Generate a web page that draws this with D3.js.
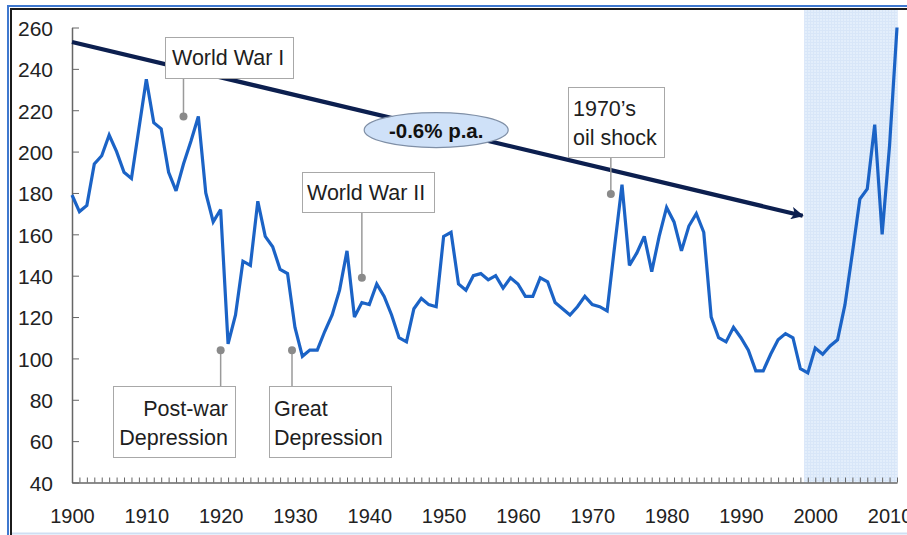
<!DOCTYPE html>
<html>
<head>
<meta charset="utf-8">
<script src="https://cdn.jsdelivr.net/npm/d3@7"></script>
<style>
  html, body { margin: 0; padding: 0; background: #fff; }
  svg { display: block; font-family: "Liberation Sans", Arial, sans-serif; }
</style>
</head>
<body>
<svg id="chart" width="907" height="535"></svg>
<script>
// ---------------- DATA ----------------
const years = d3.range(1900, 2012);
const values = [
  179, 171, 174, 194, 198, 208, 200, 190, 187, 211,   // 1900-1909
  235, 214, 211, 190, 181, 194, 205, 217, 180, 166,   // 1910-1919
  172, 107, 121, 147, 145, 176, 159, 154, 143, 141,   // 1920-1929
  115, 101, 104, 104, 113, 121, 133, 152, 120, 127,   // 1930-1939
  126, 136, 130, 121, 110, 108, 124, 129, 126, 125,   // 1940-1949
  159, 161, 136, 133, 140, 141, 138, 140, 134, 139,   // 1950-1959
  136, 130, 130, 139, 137, 127, 124, 121, 125, 130,   // 1960-1969
  126, 125, 123, 154, 184, 145, 151, 159, 142, 159,   // 1970-1979
  173, 166, 152, 164, 170, 161, 120, 110, 108, 115,   // 1980-1989
  110, 104, 94, 94, 102, 109, 112, 110, 95, 93,       // 1990-1999
  105, 102, 106, 109, 126, 151, 177, 182, 213, 160,   // 2000-2009
  203, 260                                            // 2010-2011
];
const yTicks = [40, 60, 80, 100, 120, 140, 160, 180, 200, 220, 240, 260];
const xTickLabels = [1900, 1910, 1920, 1930, 1940, 1950, 1960, 1970, 1980, 1990, 2000, 2010];
const trendYears = [1900, 1998.3];
const trendValues = [253, 169];
const trendLabel = "-0.6% p.a.";
const shadedYears = [1998.5, 2011.1];

const annoNames = ["World War I", "World War II", "1970\u2019s|oil shock", "Post-war|Depression", "Great|Depression"];
const annoYears = [1915, 1939, 1972.5, 1920, 1929.6];
const annoValues = [217, 139, 179.5, 104, 104];

// ---------------- LAYOUT ----------------
const W = 907, H = 535;
const x = d3.scaleLinear().domain([1900, 2011]).range([72, 897]);
const y = d3.scaleLinear().domain([40, 260]).range([482.5, 27.5]);

// annotation box layout (pixels)
const annoBoxes = [
  { x0: 165, y0: 37,  x1: 293, y1: 78,  anchor: "start", tx: 172, ty: 65,  conn: "down" },
  { x0: 302, y0: 172, x1: 434, y1: 212, anchor: "start", tx: 307, ty: 200, conn: "down" },
  { x0: 568, y0: 87,  x1: 664, y1: 157, anchor: "start", tx: 573, ty: 116, conn: "down" },
  { x0: 113, y0: 386, x1: 235, y1: 457, anchor: "end",   tx: 228, ty: 416, conn: "up" },
  { x0: 269, y0: 386, x1: 391, y1: 457, anchor: "start", tx: 274, ty: 416, conn: "up" }
];

const svg = d3.select("#chart");
svg.append("rect").attr("width", W).attr("height", H).attr("fill", "#fff");

// defs: grid pattern + arrow marker
const defs = svg.append("defs");
const pat = defs.append("pattern").attr("id", "grid").attr("width", 3).attr("height", 3)
  .attr("patternUnits", "userSpaceOnUse");
pat.append("rect").attr("width", 3).attr("height", 3).attr("fill", "#e3eefb");
pat.append("path").attr("d", "M0,0.5H3M0.5,0V3").attr("stroke", "#d8e6f8").attr("stroke-width", 1);

defs.append("marker").attr("id", "arrow")
  .attr("viewBox", "0 0 10 10").attr("refX", 9).attr("refY", 5)
  .attr("markerWidth", 3.6).attr("markerHeight", 3.0).attr("markerUnits", "strokeWidth")
  .attr("orient", "auto")
  .append("path").attr("d", "M0,0L10,5L0,10L2.5,5Z").attr("fill", "#0c1f4f");

// frame
svg.append("path").attr("d", `M8,${H} V6 H${W}`).attr("fill", "none").attr("stroke", "#3f78cf").attr("stroke-width", 2);
svg.append("path").attr("d", `M11,${H} V9 H${W}`).attr("fill", "none").attr("stroke", "#1b1b1b").attr("stroke-width", 2);
svg.append("line").attr("x1", 12).attr("x2", W).attr("y1", 533.5).attr("y2", 533.5)
  .attr("stroke", "#cfdff3").attr("stroke-width", 2);

// shaded period
svg.append("rect")
  .attr("x", x(shadedYears[0])).attr("y", 10)
  .attr("width", x(shadedYears[1]) - x(shadedYears[0]))
  .attr("height", y(40) - 10)
  .attr("fill", "url(#grid)");

// axes
const axisColor = "#666";
const yAxis = svg.append("g").attr("transform", `translate(${x(1900)},0)`)
  .call(d3.axisLeft(y).tickValues(yTicks).tickSize(-7).tickSizeOuter(0).tickPadding(19).tickFormat(d3.format("d")));
yAxis.selectAll("text").attr("font-size", 21).attr("fill", "#222").attr("dy", "0.37em")
  .attr("font-family", "Liberation Sans, Arial, sans-serif");

const xMinor = svg.append("g").attr("transform", `translate(0,${y(40)})`)
  .call(d3.axisBottom(x).tickValues(years).tickSize(-5).tickSizeOuter(0).tickFormat(""));
const xLab = svg.append("g").attr("transform", `translate(0,${y(40)})`)
  .call(d3.axisBottom(x).tickValues(xTickLabels).tickSize(0).tickPadding(26).tickFormat(d3.format("d")));
xLab.select(".domain").remove();
xLab.selectAll("text").attr("font-size", 20).attr("fill", "#222")
  .attr("font-family", "Liberation Sans, Arial, sans-serif");

[yAxis, xMinor].forEach(g => {
  g.selectAll(".domain").attr("stroke", axisColor).attr("stroke-width", 1.5);
  g.selectAll(".tick line").attr("stroke", axisColor).attr("stroke-width", 1);
});

// trend arrow
const trendData = trendYears.map((t, i) => [t, trendValues[i]]);
svg.append("path")
  .datum(trendData)
  .attr("d", d3.line().x(d => x(d[0])).y(d => y(d[1])))
  .attr("fill", "none").attr("stroke", "#0c1f4f").attr("stroke-width", 4.2)
  .attr("marker-end", "url(#arrow)");

// ellipse label on trend line
const eYear = 1949;
const eVal = trendValues[0] + (trendValues[1] - trendValues[0]) * (eYear - trendYears[0]) / (trendYears[1] - trendYears[0]);
svg.append("ellipse").attr("cx", x(eYear)).attr("cy", y(eVal) + 1.5)
  .attr("rx", 72).attr("ry", 17.5)
  .attr("fill", "#cfe1f8").attr("stroke", "#7f8fa6").attr("stroke-width", 1.2);
svg.append("text").attr("x", x(eYear)).attr("y", y(eVal) + 9)
  .attr("text-anchor", "middle").attr("font-weight", "bold").attr("font-size", 20.5)
  .attr("fill", "#111").text(trendLabel);

// main series
const series = years.map((yr, i) => ({ yr, v: values[i] }));
svg.append("path")
  .datum(series)
  .attr("d", d3.line().x(d => x(d.yr)).y(d => y(d.v)))
  .attr("fill", "none").attr("stroke", "#1b63c6").attr("stroke-width", 3.2)
  .attr("stroke-linejoin", "miter").attr("stroke-miterlimit", 3);

// annotations
annoNames.forEach((name, i) => {
  const b = annoBoxes[i];
  const px = x(annoYears[i]), py = y(annoValues[i]);
  const g = svg.append("g");
  g.append("line").attr("x1", px).attr("x2", px)
    .attr("y1", py).attr("y2", b.conn === "down" ? b.y1 : b.y0)
    .attr("stroke", "#9a9a9a").attr("stroke-width", 1.5);
  g.append("circle").attr("cx", px).attr("cy", py).attr("r", 4).attr("fill", "#8a8a8a");
  g.append("rect").attr("x", b.x0 + 0.5).attr("y", b.y0 + 0.5)
    .attr("width", b.x1 - b.x0).attr("height", b.y1 - b.y0)
    .attr("fill", "#fff").attr("stroke", "#a8a8a8").attr("stroke-width", 1);
  const lines = name.split("|");
  const t = g.append("text").attr("font-size", 21.5).attr("fill", "#1e1e1e").attr("text-anchor", b.anchor);
  lines.forEach((ln, j) => {
    t.append("tspan").attr("x", b.tx).attr("y", b.ty + j * 29).text(ln);
  });
});
</script>
</body>
</html>
